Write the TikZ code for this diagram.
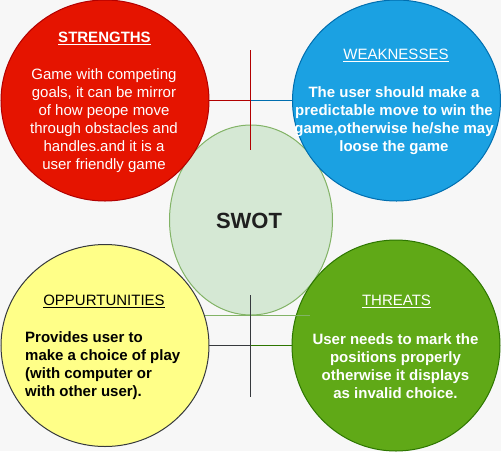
\documentclass[tikz,border=0pt]{standalone}
\usepackage{fontspec}
\setmainfont{Liberation Sans}
\usetikzlibrary{shapes.geometric}

\definecolor{bgcol}{HTML}{F7F7F7}
\definecolor{redfill}{HTML}{E51400}
\definecolor{redline}{HTML}{B20000}
\definecolor{bluefill}{HTML}{1BA1E2}
\definecolor{blueline}{HTML}{006EAF}
\definecolor{yellowfill}{HTML}{FFFF88}
\definecolor{darkline}{HTML}{36393D}
\definecolor{greenfill}{HTML}{60A917}
\definecolor{greenline}{HTML}{2D7600}
\definecolor{hubfill}{HTML}{D5E8D4}
\definecolor{hubline}{HTML}{82B366}

\tikzset{
  quadrant/.style={ellipse, inner sep=0pt, outer sep=0pt, line width=1pt,
    minimum width=208pt, minimum height=201pt},
  heading/.style={font=\fontsize{15}{18}\selectfont, inner sep=0pt},
  bodytext/.style={font=\fontsize{15}{18}\selectfont, inner sep=0pt},
  link/.style={line width=1pt},
}

\begin{document}
\begin{tikzpicture}[x=1pt, y=-1pt]
  \fill[bgcol] (0,0) rectangle (501,451);
  \useasboundingbox (0,0) rectangle (501,451);

  % central hub
  \node[ellipse, draw=hubline, fill=hubfill, line width=1pt, inner sep=0pt,
        minimum width=163pt, minimum height=190pt] (hub) at (251,220) {};
  \node[font=\fontsize{22}{26}\selectfont\bfseries, text=black!88, inner sep=0pt]
        (hubtext) at (249,221) {SWOT};

  % the four quadrants
  \node[quadrant, draw=redline, fill=redfill] (str) at (105,100.5) {};
  \node[quadrant, draw=blueline, fill=bluefill] (weak) at (396.5,100.5) {};
  \node[quadrant, draw=darkline, fill=yellowfill, minimum height=202pt] (opp) at (105,345.5) {};
  \node[quadrant, draw=greenline, fill=greenfill, minimum height=211pt] (thr) at (396,345.5) {};

  % strengths
  \node[heading, text=white, font=\fontsize{15}{18}\selectfont\bfseries] (strhead) at (104.5,38) {\underline{STRENGTHS}};
  \node[bodytext, text=white, align=center] (strbody) at (104,120.5)
    {Game with competing\\goals, it can be mirror\\of how peope move\\through obstacles and\\handles.and it is a\\user friendly game};

  % weaknesses
  \node[heading, text=white] (weakhead) at (396,55) {\underline{WEAKNESSES}};
  \node[bodytext, text=white, align=center, font=\fontsize{15}{18}\selectfont\bfseries] (weakbody) at (394,120.5)
    {The user should make a\\predictable move to win the\\game,otherwise he/she may\\loose the game};

  % opportunities
  \node[heading, text=black] (opphead) at (104,301) {\underline{OPPURTUNITIES}};
  \node[bodytext, text=black, align=left, anchor=west, font=\fontsize{15}{18}\selectfont\bfseries] (oppbody) at (25,366)
    {Provides user to\\make a choice of play\\(with computer or\\with other user).};

  % threats
  \node[heading, text=white] (thrhead) at (396.5,301) {\underline{THREATS}};
  \node[bodytext, text=white, align=center, font=\fontsize{15}{18}\selectfont\bfseries] (thrbody) at (395.5,366)
    {User needs to mark the\\positions properly\\otherwise it displays\\as invalid choice.};

  % connector end points (on pixel centres)
  \coordinate (upTop) at (250.5,50);
  \coordinate (upBottom) at (250.5,150);
  \coordinate (upMid) at (250.5,100.5);
  \coordinate (lowTop) at (250.5,295);
  \coordinate (lowBottom) at (250.5,397);
  \coordinate (lowMid) at (250.5,345.5);
  \coordinate (baseLeft) at (205,315.5);
  \coordinate (baseRight) at (310,315.5);

  % connectors
  \draw[link, redline] (upTop) -- (upBottom);
  \draw[link, redline] (str.east) -- (upMid);
  \draw[link, blueline] (upMid) -- (weak.west);
  \draw[link, hubline] (baseLeft) -- (baseRight);
  \draw[link, darkline] (lowTop) -- (lowBottom);
  \draw[link, darkline] (opp.east) -- (lowMid);
  \draw[link, greenline] (lowMid) -- (thr.west);
\end{tikzpicture}
\end{document}
